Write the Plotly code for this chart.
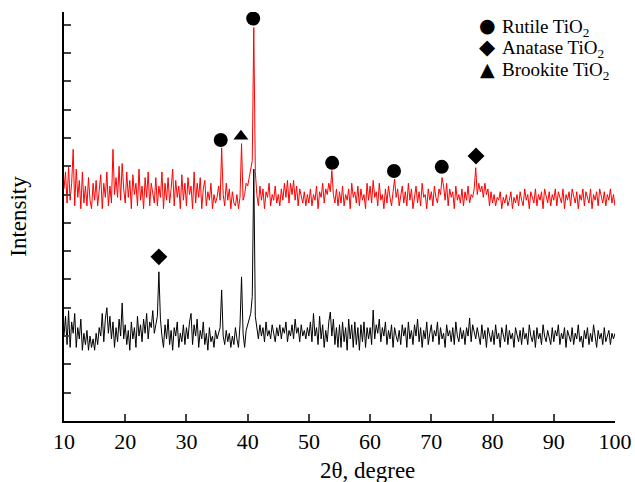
import plotly.graph_objects as go

# 2-theta grid (degrees), 0.25 deg step from 10 to 100
two_theta = [round(10 + 0.25 * i, 2) for i in range(361)]

# Upper (red) pattern intensity, arbitrary units
red_intensity = (
    [82, 88, 77, 90, 78, 84, 96, 76, 89, 79, 85, 75, 88, 77, 83, 76, 86, 78, 75, 84]
    + [78, 85, 76, 82, 87, 75, 84, 79, 88, 76, 83, 77, 96, 80, 86, 79, 90, 78, 91, 82]
    + [77, 88, 79, 85, 75, 87, 80, 84, 76, 89, 78, 83, 75, 86, 79, 88, 76, 84, 80, 77]
    + [86, 76, 83, 79, 88, 75, 84, 78, 86, 77, 82, 89, 76, 85, 79, 83, 75, 87, 78, 84]
    + [76, 86, 80, 83, 75, 88, 77, 84, 79, 86, 75, 82, 85, 76, 81, 78, 84, 75, 80, 77]
    + [79, 83, 78, 96.5, 80, 76, 84, 78, 82, 75, 81, 77, 76, 80, 75, 79, 98, 78, 80, 84]
    + [83, 86, 88, 92, 139, 88, 80, 76, 83, 78, 82, 75, 81, 79, 84, 76, 80, 78, 83, 77]
    + [80, 76, 82, 78, 84, 79, 85, 77, 84, 80, 85, 78, 83, 76, 82, 79, 77, 81, 76, 80]
    + [77, 82, 76, 80, 78, 83, 75, 81, 79, 84, 77, 82, 80, 84, 81, 88.5, 80, 77, 82, 76]
    + [81, 77, 83, 76, 80, 78, 82, 75, 84, 79, 81, 77, 83, 76, 82, 78, 80, 75, 84, 78]
    + [83, 77, 85, 79, 81, 76, 84, 78, 80, 75, 82, 77, 83, 79, 76, 81, 85.5, 79, 82, 76]
    + [80, 83, 77, 81, 76, 84, 78, 82, 75, 80, 83, 77, 81, 76, 84, 79, 80, 75, 82, 78]
    + [81, 76, 83, 79, 77, 82, 80, 86, 83, 78, 84, 76, 82, 79, 81, 75, 83, 78, 80, 77]
    + [82, 76, 81, 78, 83, 77, 80, 79, 82, 89.5, 80, 84, 81, 83, 79, 84, 80, 82, 76, 81]
    + [77, 80, 76, 79, 78, 81, 75, 79, 77, 80, 76, 78, 81, 75, 79, 77, 80, 76, 81, 78]
    + [76, 82, 78, 80, 75, 81, 79, 77, 82, 76, 80, 78, 81, 75, 82, 79, 77, 81, 76, 80]
    + [78, 82, 76, 81, 79, 77, 82, 75, 80, 78, 81, 76, 82, 79, 77, 81, 75, 80, 78, 82]
    + [76, 81, 79, 77, 82, 75, 80, 78, 81, 76, 82, 79, 77, 81, 76, 80, 78, 82, 77, 80]
    + [76]
)

# Lower (black) pattern intensity, arbitrary units
black_intensity = (
    [30, 37, 27, 39, 26, 35, 31, 38, 26, 33, 29, 36, 25, 31, 27, 32, 25, 30, 26, 29]
    + [25, 31, 27, 33, 30, 38, 28, 36, 40, 31, 37, 29, 35, 26, 33, 28, 36, 30, 41.7, 29]
    + [34, 27, 32, 25, 35, 29, 33, 26, 37, 30, 34, 28, 36, 31, 38, 29, 35, 33, 39, 31]
    + [34, 37, 52.7, 36, 30, 26, 34, 29, 36, 27, 32, 25, 33, 30, 35, 26, 31, 28, 34, 27]
    + [33, 29, 35, 38, 27, 34, 30, 36, 26, 32, 29, 35, 27, 31, 25, 33, 28, 30, 26, 32]
    + [29, 31, 33, 46.3, 30, 27, 32, 28, 31, 26, 30, 27, 33, 29, 26, 34, 50.9, 31, 26, 32]
    + [34, 36, 38, 44, 89, 37, 32, 29, 34, 30, 33, 28, 35, 30, 32, 29, 34, 31, 28, 33]
    + [30, 34, 29, 33, 31, 35, 28, 32, 30, 34, 29, 36, 31, 33, 28, 34, 30, 32, 29, 33]
    + [30, 35, 28, 38, 30, 33, 27, 37, 29, 34, 26, 32, 28, 35, 38.5, 30, 36, 27, 33, 26]
    + [34, 26, 35, 28, 33, 25, 36, 29, 34, 26, 35, 27, 33, 25, 34, 28, 35, 26, 33, 29]
    + [33, 27, 39.2, 29, 34, 31, 36, 28, 33, 30, 35, 27, 32, 29, 34, 26, 33, 30, 28, 32]
    + [27, 34, 30, 33, 26, 35, 29, 32, 27, 34, 30, 36, 28, 33, 26, 32, 29, 35, 27, 31]
    + [34, 28, 32, 30, 35, 27, 33, 29, 31, 26, 34, 30, 32, 28, 33, 27, 35, 30, 28, 33]
    + [29, 32, 27, 33, 30, 36.4, 28, 34, 31, 29, 33, 30, 27, 34, 29, 32, 26, 33, 30, 28]
    + [32, 27, 34, 29, 31, 26, 33, 30, 28, 34, 27, 32, 29, 31, 26, 33, 30, 28, 32, 27]
    + [33, 29, 31, 27, 34, 30, 28, 32, 26, 33, 29, 31, 27, 34, 30, 28, 32, 29, 27, 33]
    + [28, 32, 30, 34, 27, 31, 29, 33, 26, 32, 30, 28, 33, 27, 31, 29, 34, 28, 30, 26]
    + [32, 29, 33, 27, 31, 28, 34, 30, 26, 32, 29, 31, 27, 33, 28, 30, 32, 27, 31, 29]
    + [31]
)

# Phase identification markers
rutile_x = [35.6, 40.9, 53.8, 63.9, 71.7]
rutile_y = [99.3, 142.2, 91.2, 88.3, 89.8]
anatase_x = [25.5, 77.3]
anatase_y = [58.0, 93.6]
brookite_x = [38.9]
brookite_y = [100.6]

phase_labels = ["Rutile TiO<sub>2</sub>", "Anatase TiO<sub>2</sub>", "Brookite TiO<sub>2</sub>"]
phase_glyphs = ["●", "◆", "▲"]

x_ticks = [10, 20, 30, 40, 50, 60, 70, 80, 90, 100]
y_ticks = [10, 20, 30, 40, 50, 60, 70, 80, 90, 100, 110, 120, 130, 140]

FONT = "Liberation Serif, Times New Roman, serif"

fig = go.Figure()
fig.add_trace(go.Scatter(x=two_theta, y=red_intensity, mode="lines",
                         line=dict(color="#ff0000", width=1), name="upper"))
fig.add_trace(go.Scatter(x=two_theta, y=black_intensity, mode="lines",
                         line=dict(color="#000000", width=1), name="lower"))
fig.add_trace(go.Scatter(x=rutile_x, y=rutile_y, mode="markers",
                         marker=dict(symbol="circle", size=14, color="black"),
                         name=phase_labels[0]))
fig.add_trace(go.Scatter(x=anatase_x, y=anatase_y, mode="markers",
                         marker=dict(symbol="diamond", size=13, color="black"),
                         name=phase_labels[1]))
fig.add_trace(go.Scatter(x=brookite_x, y=brookite_y, mode="markers",
                         marker=dict(symbol="triangle-up", size=13, color="black"),
                         name=phase_labels[2]))

# Legend drawn as annotations (symbol + label rows)
row_y = [0.968, 0.915, 0.861]
glyph_sizes = [19, 21, 19]
annotations = []
for lab, gl, yy, gs in zip(phase_labels, phase_glyphs, row_y, glyph_sizes):
    annotations.append(dict(xref="paper", yref="paper", x=0.768, y=yy,
                            xanchor="center", yanchor="middle", showarrow=False,
                            text=gl, font=dict(family="DejaVu Sans", size=gs, color="black")))
    annotations.append(dict(xref="paper", yref="paper", x=0.792, y=yy - 0.006,
                            xanchor="left", yanchor="middle", showarrow=False,
                            text=lab, font=dict(family=FONT, size=19, color="black")))
# x-axis title
annotations.append(dict(xref="paper", yref="paper", x=0.55, y=-0.12,
                        xanchor="center", yanchor="middle", showarrow=False,
                        text="2θ, degree", font=dict(family=FONT, size=23, color="black")))

fig.update_layout(
    width=635, height=482,
    margin=dict(l=64, r=20, t=12, b=61),
    paper_bgcolor="white", plot_bgcolor="white",
    showlegend=False,
    font=dict(family=FONT, size=22, color="black"),
    annotations=annotations,
    xaxis=dict(range=[10, 100], tickvals=x_ticks, ticks="inside", ticklen=7,
               tickwidth=2, showline=True, linewidth=2, linecolor="black",
               showgrid=False, zeroline=False, automargin=False,
               tickfont=dict(family=FONT, size=22)),
    yaxis=dict(range=[0, 144.5], tickvals=y_ticks, ticks="inside", ticklen=7,
               tickwidth=2, showline=True, linewidth=2, linecolor="black",
               showgrid=False, zeroline=False, showticklabels=False, automargin=False,
               title=dict(text="Intensity", font=dict(family=FONT, size=23), standoff=29)),
)

fig.write_html("out.html", config={"displayModeBar": False},
               post_script="document.body.style.margin='0px';document.body.style.overflow='hidden';")
